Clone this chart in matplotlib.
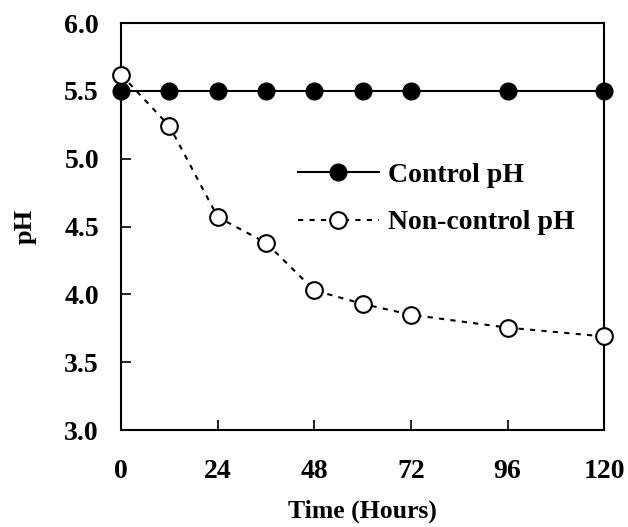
import matplotlib
matplotlib.use('Agg')
import matplotlib.pyplot as plt

# datos
horas = [0, 12, 24, 36, 48, 60, 72, 96, 120]
ph_control = [5.5, 5.5, 5.5, 5.5, 5.5, 5.5, 5.5, 5.5, 5.5]
ph_sin_control = [5.62, 5.24, 4.57, 4.38, 4.03, 3.93, 3.85, 3.755, 3.69]
xticks = [0, 24, 48, 72, 96, 120]
yticks = [3.0, 3.5, 4.0, 4.5, 5.0, 5.5, 6.0]

plt.rcParams['font.family'] = 'Liberation Serif'
plt.rcParams['font.weight'] = 'bold'

fig = plt.figure(figsize=(6.28, 5.27), dpi=100)
ax = fig.add_axes([0.193, 0.184, 0.769, 0.772])

ax.plot(horas, ph_control, color='k', linewidth=1.5, marker='o', markersize=12,
        markerfacecolor='k', markeredgecolor='k', clip_on=False, zorder=3, label='Control pH')
ax.plot(horas, ph_sin_control, color='k', linewidth=1.5, linestyle=(0, (2.5, 3)), marker='o',
        markersize=12, markerfacecolor='white', markeredgecolor='k', markeredgewidth=1.5,
        clip_on=False, zorder=4, label='Non-control pH')

ax.set_xlim(0, 120)
ax.set_ylim(3.0, 6.0)
ax.set_xticks(xticks)
ax.set_yticks(yticks)
ax.set_yticklabels(['%.1f' % v for v in yticks])
ax.tick_params(direction='in', length=7, width=1.2, labelsize=20)
ax.tick_params(axis='x', pad=21)
ax.tick_params(axis='y', pad=16)
for s in ax.spines.values():
    s.set_linewidth(1.5)

ax.set_xlabel('Time (Hours)', fontsize=18.5, fontweight='bold', labelpad=11)
ax.set_ylabel('pH', fontsize=19, fontweight='bold', labelpad=20)

ax.legend(loc='center left', bbox_to_anchor=(0.4745, 0.623), bbox_transform=fig.transFigure,
          frameon=False, fontsize=20, handlelength=2.9, handletextpad=0.35, labelspacing=0.8,
          borderpad=0, borderaxespad=0)

fig.savefig('out.png', dpi=100)
